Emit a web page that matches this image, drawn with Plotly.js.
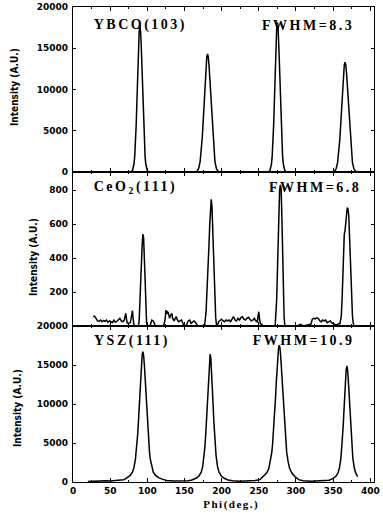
<!DOCTYPE html>
<html>
<head>
<meta charset="utf-8">
<script src="https://cdn.plot.ly/plotly-3.0.1.min.js"></script>
<style>
  html, body { margin: 0; padding: 0; background: #ffffff; }
  #chart { width: 383px; height: 513px; }
</style>
</head>
<body>
<div id="chart"></div>
<script>
// ---------- data ----------
const xTickVals = [0, 50, 100, 150, 200, 250, 300, 350, 400];
const xTickText = ["0", "50", "100", "150", "200", "250", "300", "350", "400"];

const panelLabels = ["YBCO(103)", "CeO<sub>2</sub>(111)", "YSZ(111)"];
const fwhmLabels = ["FWHM=8.3", "FWHM=6.8", "FWHM=10.9"];

// YBCO(103) phi scan
const phiYBCO = [25,40,55,70,78,
  80,82,83,84,85,86,87,88,89,90,91,92,93,94,95,96,97,98,100,102,
  115,140,160,
  165,167,169,171,173,174,175,176,177,178,179,180,181,182,183,184,185,186,187,188,189,191,193,195,197,
  215,240,255,
  263,265,267,268,269,270,271,272,273,274,275,276,277,278,279,280,281,282,283,285,287,
  310,335,
  350,352,354,356,358,359,360,361,362,363,364,365,366,367,368,369,370,371,372,373,374,376,378,380,382];
const intYBCO = [30,40,30,50,25,
  180,940,1870,3400,5640,8540,11780,14810,17000,17800,17000,14810,11780,8540,5640,3400,1870,940,180,25,
  20,30,40,
  30,110,410,1220,2950,4260,5880,7710,9640,11450,12960,13960,14300,13960,12960,11450,9640,7710,5880,4260,2950,1220,410,110,30,
  20,30,20,
  25,180,960,1900,3460,5740,8690,11980,15060,17290,18100,17290,15060,11980,8690,5740,3460,1900,960,180,25,
  20,30,
  30,110,390,1130,2740,3960,5470,7170,8960,10650,12050,12980,13300,12980,12050,10650,8960,7170,5470,3960,2740,1130,390,110,30];

// CeO2(111) phi scan
const phiCeO2 = [27,29,31,33,35,37,39,41,43,45,47,49,51,53,55,57,59,61,63,65,67,69,70,71,72,73,75,77,78,79,80,81,82,84,86,88,
  89,90,91,92,93,94,95,96,97,98,99,100,
  102,104,106,108,110,111,114,118,122,
  124,125,126,127,128,129,130,131,132,133,134,135,136,137,138,139,140,142,144,146,148,149,152,
  155,157,159,161,163,165,167,168,172,176,
  177,179,181,183,184,185,186,187,188,189,190,191,192,193,194,
  196,198,200,202,204,206,208,210,212,214,216,218,220,222,224,226,228,230,232,234,236,238,240,242,244,246,248,
  249,250,251,252,254,256,260,264,268,271,
  272,274,275,276,277,278,279,280,281,282,283,284,285,
  290,300,304,306,310,315,320,322,324,326,328,330,332,334,336,338,340,342,344,346,348,350,352,354,356,358,
  359,361,362,363,364,365,366,367,368,369,370,371,372,373,374,375,376,377,378];
const intCeO2 = [55,58,45,30,28,35,25,32,28,35,22,30,25,20,35,22,28,40,45,30,25,35,50,75,40,18,15,20,40,70,90,40,5,0,0,0,
  30,150,310,400,470,540,520,400,250,90,20,0,
  0,5,35,30,10,0,0,0,0,
  40,94,70,84,80,55,45,60,70,75,45,35,30,40,50,55,40,25,30,35,15,0,0,
  30,35,15,25,30,20,10,0,0,0,
  0,80,250,480,600,700,745,700,560,400,250,130,50,10,0,
  25,35,40,30,25,35,30,35,25,40,55,35,30,45,35,50,55,40,35,45,51,40,30,35,45,30,25,
  60,84,40,15,10,0,0,0,0,0,
  0,150,350,550,700,800,830,810,650,430,220,60,0,
  0,0,5,10,0,5,10,40,45,42,48,45,30,25,35,30,35,20,25,30,20,15,8,5,10,15,
  10,60,150,300,450,540,560,620,680,696,690,650,540,400,260,140,60,20,0];

// YSZ(111) phi scan
const phiYSZ = [20,28,32,38,44,50,56,60,64,68,
  70,73,77,80,82,84,85,86,87,88,89,90,91,92,93,94,95,96,97,98,99,100,101,102,103,104,106,108,111,115,120,
  126,135,145,155,160,
  165.5,169.5,172.5,174.5,176.5,177.5,178.5,179.5,180.5,181.5,182.5,183.5,184.5,185.5,186.5,187.5,188.5,189.5,190.5,191.5,192.5,194.5,196.5,199.5,203.5,208.5,
  215,225,235,245,
  251.5,256.5,260.5,263.5,265.5,267.5,268.5,269.5,270.5,271.5,272.5,273.5,274.5,275.5,276.5,277.5,278.5,279.5,280.5,281.5,282.5,283.5,284.5,285.5,286.5,287.5,289.5,291.5,294.5,298.5,303.5,
  310,320,330,338,
  344.5,349.5,353.5,356.5,358.5,360.5,361.5,362.5,363.5,364.5,365.5,366.5,367.5,368.5,369.5,370.5,371.5,372.5,373.5,374.5,375.5,376.5,378.5,380.5,383];
const intYSZ = [50,80,150,180,150,120,150,200,260,300,
  370,550,840,1270,1840,2920,3720,4780,6080,7650,9450,11390,13340,15050,16250,16700,16250,15050,13340,11390,9450,7650,6080,4780,3720,2920,1840,1270,840,550,370,
  200,120,100,150,250,
  480,770,1250,1970,3390,4510,5970,7800,9900,12130,14260,15780,16390,15780,14260,12130,9900,7800,5970,4510,3390,1970,1250,770,480,250,
  150,100,120,200,
  300,700,1140,1720,2580,3830,4810,6020,7440,9070,10810,12720,14570,16060,17150,17550,17150,16060,14570,12720,10810,9070,7440,6020,4810,3830,2580,1720,1140,700,300,
  150,100,150,200,
  220,430,700,1130,1790,3080,4090,5420,7080,8990,11010,12950,14330,14880,14330,12950,11010,8990,7080,5420,4090,3080,1790,1130,700];

const yTicksTop = [0, 5000, 10000, 15000, 20000];
const yTicksMid = [200, 400, 600, 800];
const yTicksBot = [0, 5000, 10000, 15000, 20000];

// ---------- chart ----------
const lineStyle = { color: "#000000", width: 1.5 };
const traces = [
  { x: phiYBCO, y: intYBCO, xaxis: "x", yaxis: "y", type: "scatter", mode: "lines", line: lineStyle, hoverinfo: "skip" },
  { x: phiCeO2, y: intCeO2, xaxis: "x2", yaxis: "y2", type: "scatter", mode: "lines", line: lineStyle, hoverinfo: "skip" },
  { x: phiYSZ, y: intYSZ, xaxis: "x3", yaxis: "y3", type: "scatter", mode: "lines", line: lineStyle, hoverinfo: "skip" }
];

const tickFont = { family: "DejaVu Sans", size: 9, color: "#000000", weight: "bold" };

function xAxis(anchor, showLabels) {
  return {
    anchor: anchor, domain: [0, 1], range: [0, 405],
    tickmode: "array", tickvals: xTickVals, ticktext: xTickText,
    showticklabels: showLabels, tickfont: tickFont,
    ticks: "inside", ticklen: 4, tickwidth: 1, tickcolor: "#000000",
    minor: { ticks: "inside", tickvals: [25, 75, 125, 175, 225, 275, 325, 375], ticklen: 2, tickcolor: "#000000" },
    showline: true, mirror: "ticks", linecolor: "#000000", linewidth: 1.2,
    showgrid: false, zeroline: false, fixedrange: true
  };
}
function yAxis(anchor, domain, range, vals) {
  return {
    anchor: anchor, domain: domain, range: range,
    tickmode: "array", tickvals: vals, ticktext: vals.map(String),
    tickfont: tickFont, ticklabelstandoff: 2,
    ticks: "inside", ticklen: 3, tickwidth: 1, tickcolor: "#000000",
    showline: true, mirror: "ticks", linecolor: "#000000", linewidth: 1.2,
    showgrid: false, zeroline: false, fixedrange: true
  };
}

const labelFont = { family: "Liberation Serif", size: 14, color: "#000000", weight: "bold" };
const yTitleFont = { family: "Liberation Sans Narrow, DejaVu Sans Condensed, Liberation Sans, sans-serif", size: 10, color: "#000000", weight: "bold" };

const annotations = [
  { text: panelLabels[0], x: 0.2259, y: 0.962, xanchor: "center", yanchor: "middle" },
  { text: fwhmLabels[0], x: 0.7807, y: 0.962, xanchor: "center", yanchor: "middle" },
  { text: panelLabels[1], x: 0.206, y: 0.619, xanchor: "center", yanchor: "middle" },
  { text: fwhmLabels[1], x: 0.804, y: 0.619, xanchor: "center", yanchor: "middle" },
  { text: panelLabels[2], x: 0.196, y: 0.297, xanchor: "center", yanchor: "middle" },
  { text: fwhmLabels[2], x: 0.7674, y: 0.297, xanchor: "center", yanchor: "middle" }
].map(a => Object.assign(a, { xref: "paper", yref: "paper", showarrow: false, font: labelFont }));

const yTitles = [
  { x: -0.1927, y: 0.8316 },
  { x: -0.1296, y: 0.4737 },
  { x: -0.1827, y: 0.1558 }
].map(p => ({ text: "Intensity (A.U.)", x: p.x, y: p.y, xref: "paper", yref: "paper",
  xanchor: "center", yanchor: "middle", textangle: -90, showarrow: false, font: yTitleFont }));

const xTitle = { text: "Phi(deg.)", x: 0.528, y: -0.0484, xref: "paper", yref: "paper",
  xanchor: "center", yanchor: "middle", showarrow: false,
  font: { family: "Liberation Serif", size: 11, color: "#000000", weight: "bold" } };

const layout = {
  width: 383, height: 513,
  margin: { l: 73, r: 9, t: 7, b: 31 },
  paper_bgcolor: "#ffffff", plot_bgcolor: "#ffffff",
  showlegend: false,
  xaxis: xAxis("y", false),
  xaxis2: xAxis("y2", false),
  xaxis3: xAxis("y3", true),
  yaxis: yAxis("x", [0.6526, 1], [0, 20000], yTicksTop),
  yaxis2: yAxis("x2", [0.3284, 0.6526], [0, 906], yTicksMid),
  yaxis3: yAxis("x3", [0, 0.3284], [0, 20000], yTicksBot),
  annotations: annotations.concat(yTitles, [xTitle])
};

Plotly.newPlot("chart", traces, layout, { staticPlot: true, displayModeBar: false }).then(function () {
  const spaced = ["YBCO(103)", "CeO<sub>2</sub>(111)", "YSZ(111)", "FWHM=8.3", "FWHM=6.8", "FWHM=10.9", "Phi(deg.)"];
  document.querySelectorAll("#chart .annotation-text").forEach(function (t) {
    const raw = t.getAttribute("data-unformatted");
    if (spaced.indexOf(raw) >= 0) t.style.letterSpacing = raw === "Phi(deg.)" ? "1.5px" : "2.5px";
  });
});
</script>
</body>
</html>
